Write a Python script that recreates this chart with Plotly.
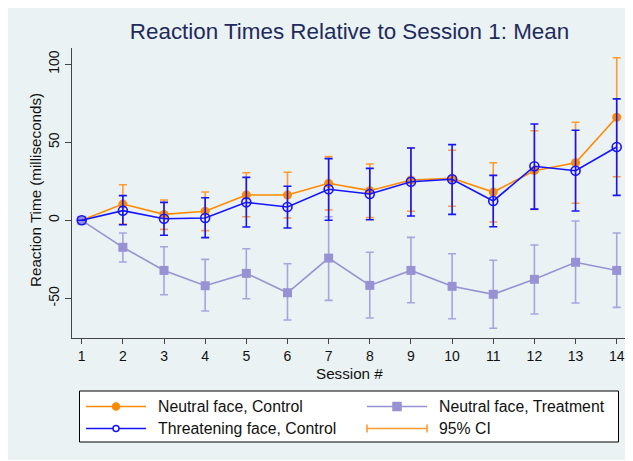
import numpy as np
import plotly.graph_objects as go

sessions = list(range(1, 15))
x_ticks = list(range(1, 15))
y_ticks = [-50, 0, 50, 100]

nc_mean = [0, 10.4, 3.8, 5.8, 16.2, 16.2, 23.7, 19.0, 25.8, 26.9, 18.1, 31.8, 36.9, 66.0]
nc_upper = [0, 22.8, 13.0, 18.1, 30.5, 30.8, 40.8, 36.1, 46.5, 44.9, 36.9, 57.4, 62.8, 104.2]
nc_lower = [0, -2.4, -5.8, -6.6, 2.3, 1.5, 6.6, 1.7, 5.8, 9.0, -1.1, 7.0, 10.9, 27.9]

tc_mean = [0, 6.2, 1.0, 1.5, 11.5, 8.5, 19.9, 16.9, 24.7, 26.3, 12.4, 34.6, 31.8, 47.0]
tc_upper = [0, 15.8, 11.5, 14.5, 27.5, 21.8, 39.5, 33.3, 46.3, 48.5, 28.8, 61.7, 57.7, 77.8]
tc_lower = [0, -2.8, -9.6, -11.1, -4.3, -4.9, 0.0, 0.4, 2.8, 3.8, -4.1, 7.2, 6.0, 16.0]

nt_mean = [0, -17.3, -32.1, -41.9, -34.0, -46.4, -24.2, -41.7, -32.1, -42.3, -47.4, -37.8, -26.9, -32.1]
nt_upper = [0, -8.1, -16.9, -25.0, -18.2, -27.8, 2.3, -20.5, -10.9, -21.4, -25.6, -15.8, -0.4, -8.1]
nt_lower = [0, -26.7, -47.7, -58.1, -50.3, -63.9, -51.3, -62.6, -52.8, -63.1, -69.2, -60.0, -53.0, -55.8]

ORANGE = "#FF8A00"
ORANGE_CI = "#FF9A33"
BLUE = "#1414FF"
PURPLE = "#9892D4"
PURPLE_CI = "#A9A4DE"
BG = "#EAF2F3"

# page offset (browser body margin)
OFF = 8
W, H = 633 - OFF, 461 - OFF
L, R, T, B = 72 - OFF, 6, 48 - OFF, 123
PW, PH = W - L - R, H - T - B


def px_x(p):
    # p is a page pixel coordinate
    return (p - OFF - L) / PW


def px_y(p):
    return (H - B - (p - OFF)) / PH


def err(mean, upper, lower):
    m = np.array(mean)
    return dict(type="data", symmetric=False,
                array=(np.array(upper) - m).tolist(),
                arrayminus=(m - np.array(lower)).tolist())


fig = go.Figure()

fig.add_trace(go.Scatter(
    x=sessions, y=nc_mean, mode="lines+markers",
    line=dict(color=ORANGE, width=1.6),
    marker=dict(symbol="circle", size=9, color=ORANGE),
    error_y=dict(**err(nc_mean, nc_upper, nc_lower), color=ORANGE_CI, thickness=1.6, width=4),
    showlegend=False))

fig.add_trace(go.Scatter(
    x=sessions, y=nt_mean, mode="lines+markers",
    line=dict(color=PURPLE, width=1.6),
    marker=dict(symbol="square", size=9, color=PURPLE),
    error_y=dict(**err(nt_mean, nt_upper, nt_lower), color=PURPLE_CI, thickness=1.6, width=4),
    showlegend=False))

fig.add_trace(go.Scatter(
    x=sessions, y=tc_mean, mode="lines+markers",
    line=dict(color=BLUE, width=1.6),
    marker=dict(symbol="circle-open", size=9, color=BLUE, line=dict(width=1.6, color=BLUE)),
    error_y=dict(**err(tc_mean, tc_upper, tc_lower), color=BLUE, thickness=1.6, width=4),
    showlegend=False))

shapes = []
# outer light background panel
shapes.append(dict(type="rect", xref="paper", yref="paper", layer="below",
                   x0=px_x(8), x1=px_x(640), y0=px_y(460), y1=px_y(2),
                   fillcolor=BG, line=dict(width=0)))

# legend box
lx0, lx1, ly0, ly1 = 79.5, 618.5, 391, 442
shapes.append(dict(type="rect", xref="paper", yref="paper",
                   x0=px_x(lx0), x1=px_x(lx1), y0=px_y(ly1), y1=px_y(ly0),
                   fillcolor="white", line=dict(color="black", width=1)))

row1, row2 = 406.5, 428.5
c1a, c1b = 86, 146
c2a, c2b = 367, 427


def hline(xa, xb, yy, color, w=1.6):
    shapes.append(dict(type="line", xref="paper", yref="paper",
                       x0=px_x(xa), x1=px_x(xb), y0=px_y(yy), y1=px_y(yy),
                       line=dict(color=color, width=w)))


def marker_shape(kind, cx, cy, size, color, fill):
    s = size / 2
    shapes.append(dict(type=kind, xref="paper", yref="paper",
                       xsizemode="pixel", ysizemode="pixel",
                       xanchor=px_x(cx), yanchor=px_y(cy),
                       x0=-s, x1=s, y0=-s, y1=s,
                       fillcolor=fill, line=dict(color=color, width=1.5)))


hline(c1a, c1b, row1, ORANGE)
marker_shape("circle", (c1a + c1b) / 2, row1, 7, ORANGE, ORANGE)
hline(c1a, c1b, row2, BLUE)
marker_shape("circle", (c1a + c1b) / 2, row2, 6, BLUE, "white")
hline(c2a, c2b, row1, PURPLE)
marker_shape("rect", (c2a + c2b) / 2, row1, 8, PURPLE, PURPLE)
hline(c2a, c2b, row2, ORANGE_CI)
for xx in (c2a, c2b):
    shapes.append(dict(type="line", xref="paper", yref="paper",
                       x0=px_x(xx), x1=px_x(xx), y0=px_y(row2 - 4), y1=px_y(row2 + 4),
                       line=dict(color=ORANGE_CI, width=1.6)))

annotations = []
legend_items = [("Neutral face, Control", 156, row1),
                ("Threatening face, Control", 156, row2),
                ("Neutral face, Treatment", 437, row1),
                ("95% CI", 437, row2)]
for txt, xx, yy in legend_items:
    annotations.append(dict(text=txt, xref="paper", yref="paper",
                            x=px_x(xx), y=px_y(yy), xanchor="left", yanchor="middle",
                            showarrow=False, font=dict(size=15.8, color="#111111")))

# axis titles (placed as text at measured positions)
annotations.append(dict(text="Reaction Time (milliseconds)", xref="paper", yref="paper",
                        x=px_x(35), y=px_y(190), xanchor="center", yanchor="middle",
                        textangle=-90, showarrow=False, font=dict(size=15.2, color="#111111")))
annotations.append(dict(text="Session #", xref="paper", yref="paper",
                        x=px_x(349), y=px_y(373), xanchor="center", yanchor="middle",
                        showarrow=False, font=dict(size=15.2, color="#111111")))

fig.update_layout(
    width=W, height=H,
    margin=dict(l=L, r=R, t=T, b=B, autoexpand=False),
    paper_bgcolor="white",
    plot_bgcolor="white",
    font=dict(family="Liberation Sans, Arial, sans-serif", color="#111111"),
    title=dict(text="Reaction Times Relative to Session 1: Mean",
               x=0.5, xref="paper", xanchor="center",
               y=1 - (31 - OFF) / H, yref="container", yanchor="middle",
               font=dict(size=22.4, color="#1E2B5C")),
    shapes=shapes,
    annotations=annotations,
    xaxis=dict(range=[0.764, 14.25], tickvals=x_ticks, ticktext=[str(v) for v in x_ticks],
               showgrid=False, zeroline=False, showline=True, linecolor="#444444", linewidth=1.2,
               ticks="outside", ticklen=5, tickcolor="#444444", tickwidth=1,
               tickfont=dict(size=14)),
    yaxis=dict(range=[-75.4, 110.4], tickvals=y_ticks, ticktext=[str(v) for v in y_ticks],
               showgrid=True, gridcolor=BG, gridwidth=1, zeroline=False,
               showline=True, linecolor="#444444", linewidth=1.2,
               ticks="outside", ticklen=6, tickcolor="#444444", tickwidth=1,
               tickangle=-90, tickfont=dict(size=14)),
)

fig.write_html("out.html")
